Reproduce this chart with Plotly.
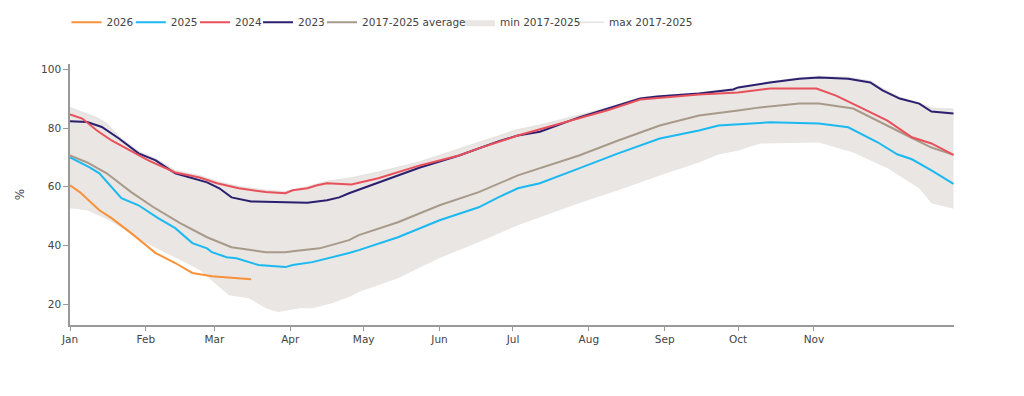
import plotly.graph_objects as go

YEAR = "2025"

# ---- data (day-month positions on a common seasonal axis) ----
d2026 = ["01-01", "01-05", "01-13", "01-18", "01-26", "02-05", "02-13", "02-20", "02-28", "03-08", "03-16"]
v2026 = [60.5, 58.2, 52.0, 49.3, 44.2, 37.4, 34.0, 30.6, 29.5, 28.9, 28.5]

d2025 = ["01-01", "01-09", "01-13", "01-22", "01-29", "02-06", "02-13", "02-20", "02-26", "02-28",
         "03-06", "03-10", "03-19", "03-30", "04-02", "04-10", "04-25", "04-29", "05-15", "06-01",
         "06-17", "06-25", "07-03", "07-12", "07-28", "08-13", "08-30", "09-15", "09-23", "10-01",
         "10-14", "11-03", "11-15", "11-27", "12-05", "12-11", "12-19", "12-28"]
v2025 = [70.0, 66.6, 64.6, 56.1, 53.7, 49.3, 45.9, 40.8, 39.0, 37.7,
         36.0, 35.6, 33.3, 32.6, 33.3, 34.3, 37.4, 38.4, 42.8, 48.6,
         53.0, 56.4, 59.5, 61.2, 66.3, 71.4, 76.5, 79.2, 80.9, 81.3,
         82.0, 81.6, 80.3, 75.2, 71.1, 69.4, 65.6, 61.0]

d2024 = ["01-01", "01-06", "01-12", "01-18", "01-24", "02-02", "02-13", "02-23", "03-02", "03-11",
         "03-22", "03-30", "04-02", "04-08", "04-12", "04-16", "04-26", "05-07", "05-24", "06-09",
         "06-17", "07-03", "07-28", "08-09", "08-22", "09-15", "10-01", "10-14", "11-02", "11-10",
         "11-21", "12-01", "12-11", "12-19", "12-28"]
v2024 = [84.7, 83.3, 79.2, 75.8, 73.1, 69.0, 64.9, 63.2, 61.2, 59.5,
         58.2, 57.8, 58.8, 59.5, 60.5, 61.2, 60.8, 62.9, 67.3, 70.7,
         73.1, 77.5, 83.4, 86.2, 89.8, 91.5, 92.2, 93.5, 93.5, 91.1,
         86.7, 82.6, 76.9, 74.8, 70.9]

d2023 = ["01-01", "01-08", "01-14", "01-21", "01-29", "02-05", "02-13", "02-20", "02-26", "03-03",
         "03-08", "03-16", "04-01", "04-08", "04-16", "04-21", "04-25", "05-07", "05-24", "06-09",
         "06-17", "06-25", "07-03", "07-12", "07-28", "08-09", "08-22", "08-29", "09-15", "09-29",
         "10-01", "10-14", "10-26", "11-03", "11-15", "11-24", "11-29", "12-06", "12-14", "12-19",
         "12-28"]
v2023 = [82.4, 82.1, 80.4, 76.5, 71.4, 69.0, 64.6, 62.9, 61.5, 59.5,
         56.4, 55.0, 54.7, 54.6, 55.4, 56.4, 57.8, 61.5, 66.6, 70.7,
         73.1, 75.5, 77.5, 78.8, 83.7, 86.7, 90.1, 90.8, 91.8, 93.2,
         93.9, 95.6, 96.9, 97.3, 96.9, 95.6, 92.9, 90.1, 88.4, 85.7,
         85.0]

d_avg = ["01-01", "01-08", "01-16", "01-26", "02-04", "02-15", "02-26", "03-08", "03-22", "03-30",
         "04-02", "04-13", "04-25", "04-29", "05-15", "06-01", "06-17", "07-03", "07-28", "08-13",
         "08-30", "09-15", "10-01", "10-10", "10-26", "11-03", "11-17", "11-28", "12-09", "12-19",
         "12-28"]
v_avg = [70.7, 68.3, 64.6, 58.2, 53.1, 47.6, 42.8, 39.4, 37.7, 37.7,
         38.0, 39.0, 41.8, 43.5, 47.9, 53.7, 58.2, 63.9, 70.7, 75.8,
         80.9, 84.3, 86.0, 87.1, 88.4, 88.4, 86.7, 82.0, 77.5, 73.4,
         70.9]

d_min = ["01-01", "01-08", "01-17", "02-01", "02-15", "02-23", "03-02", "03-07", "03-15", "03-22",
         "03-27", "04-05", "04-10", "04-18", "04-25", "04-29", "05-15", "06-01", "06-17", "07-03",
         "07-12", "07-28", "08-13", "08-30", "09-15", "09-23", "10-01", "10-10", "11-03", "11-17",
         "12-01", "12-14", "12-19", "12-28"]
v_min = [52.7, 52.0, 48.6, 40.8, 35.0, 31.6, 26.5, 23.0, 22.0, 18.6,
         17.3, 18.6, 18.6, 20.3, 22.4, 24.1, 28.8, 35.7, 41.1, 46.9,
         49.6, 54.4, 58.8, 63.9, 68.3, 71.0, 72.4, 74.8, 75.1, 71.7,
         66.3, 59.5, 54.4, 52.5]

d_max = ["01-01", "01-06", "01-12", "01-16", "01-21", "01-29", "02-05", "02-13", "02-23", "03-02",
         "03-11", "03-22", "03-30", "04-08", "04-16", "04-26", "05-07", "05-24", "06-09", "06-25",
         "07-03", "07-12", "07-28", "08-09", "08-22", "08-29", "09-15", "09-29", "10-14", "10-26",
         "11-03", "11-15", "11-24", "11-29", "12-06", "12-14", "12-19", "12-28"]
v_max = [87.0, 85.5, 83.5, 81.5, 77.0, 72.0, 69.5, 65.5, 63.8, 61.8,
         60.0, 58.8, 58.3, 60.0, 61.8, 63.0, 65.0, 68.5, 73.0, 77.5,
         79.5, 81.0, 84.3, 87.0, 90.3, 91.0, 92.0, 93.5, 95.8, 97.1,
         97.6, 97.3, 96.0, 93.5, 90.5, 88.6, 86.8, 86.5]

month_ticks = ["01-01", "02-01", "03-01", "04-01", "05-01", "06-01",
               "07-01", "08-01", "09-01", "10-01", "11-01"]
month_labels = ["Jan", "Feb", "Mar", "Apr", "May", "Jun",
                "Jul", "Aug", "Sep", "Oct", "Nov"]
y_ticks = [20, 40, 60, 80, 100]


def dates(md):
    return [f"{YEAR}-{m}" for m in md]


FONT = "DejaVu Sans"
TXT = "#444"
BAND = "#e9e6e3"

# legend entry positions (paper x of each legend box), styling only
LEGEND_X = {"legend": -0.004, "legend2": 0.0688, "legend3": 0.1414, "legend4": 0.2127,
            "legend5": 0.2851, "legend6": 0.4412, "legend7": 0.5645}

fig = go.Figure()

# band: max (line) first, then min filled to it
fig.add_trace(go.Scatter(x=dates(d_max), y=v_max, name="max 2017-2025", mode="lines",
                         line=dict(color="#e6e3e0", width=1.5), legend="legend7", hoverinfo="skip"))
fig.add_trace(go.Scatter(x=dates(d_min), y=v_min, name="min 2017-2025", mode="lines",
                         line=dict(color=BAND, width=0), fill="tonexty", fillcolor=BAND,
                         legend="legend6", hoverinfo="skip"))

fig.add_trace(go.Scatter(x=dates(d_avg), y=v_avg, name="2017-2025 average", mode="lines",
                         line=dict(color="#a89a8a", width=2), legend="legend5"))
fig.add_trace(go.Scatter(x=dates(d2023), y=v2023, name="2023", mode="lines",
                         line=dict(color="#2b1f6f", width=2), legend="legend4"))
fig.add_trace(go.Scatter(x=dates(d2024), y=v2024, name="2024", mode="lines",
                         line=dict(color="#e8505b", width=2), legend="legend3"))
fig.add_trace(go.Scatter(x=dates(d2025), y=v2025, name="2025", mode="lines",
                         line=dict(color="#1cb9f0", width=2), legend="legend2"))
fig.add_trace(go.Scatter(x=dates(d2026), y=v2026, name="2026", mode="lines",
                         line=dict(color="#f7923a", width=2), legend="legend"))

legends = {}
for key, lx in LEGEND_X.items():
    legends[key] = dict(orientation="h", x=lx, xanchor="left", y=1.16, yanchor="middle",
                        font=dict(family=FONT, size=10.5, color=TXT),
                        bgcolor="rgba(0,0,0,0)", borderwidth=0, itemclick=False)

fig.update_layout(
    width=1016, height=388,
    margin=dict(l=62, r=70, t=56, b=71, autoexpand=False),
    paper_bgcolor="white", plot_bgcolor="white",
    font=dict(family=FONT, size=10.5, color=TXT),
    showlegend=True,
    **legends,
    xaxis=dict(
        type="date", automargin=False,
        range=[f"{YEAR}-01-01", f"{YEAR}-12-28 05:00"],
        tickvals=dates(month_ticks), ticktext=month_labels,
        showgrid=False, zeroline=False,
        showline=True, linecolor="#999", linewidth=1.5,
        ticks="outside", ticklen=4, tickcolor="#999", tickwidth=1,
        tickfont=dict(family=FONT, size=10.5, color=TXT),
    ),
    yaxis=dict(
        range=[12.85, 101.9], automargin=False,
        tickvals=y_ticks,
        showgrid=False, zeroline=False,
        showline=True, linecolor="#999", linewidth=1.5,
        ticks="outside", ticklen=5, tickcolor="#999", tickwidth=1,
        tickfont=dict(family=FONT, size=10.5, color=TXT),
        title=dict(text="%", font=dict(family=FONT, size=12, color=TXT), standoff=14),
    ),
)

fig.write_html("out.html")
